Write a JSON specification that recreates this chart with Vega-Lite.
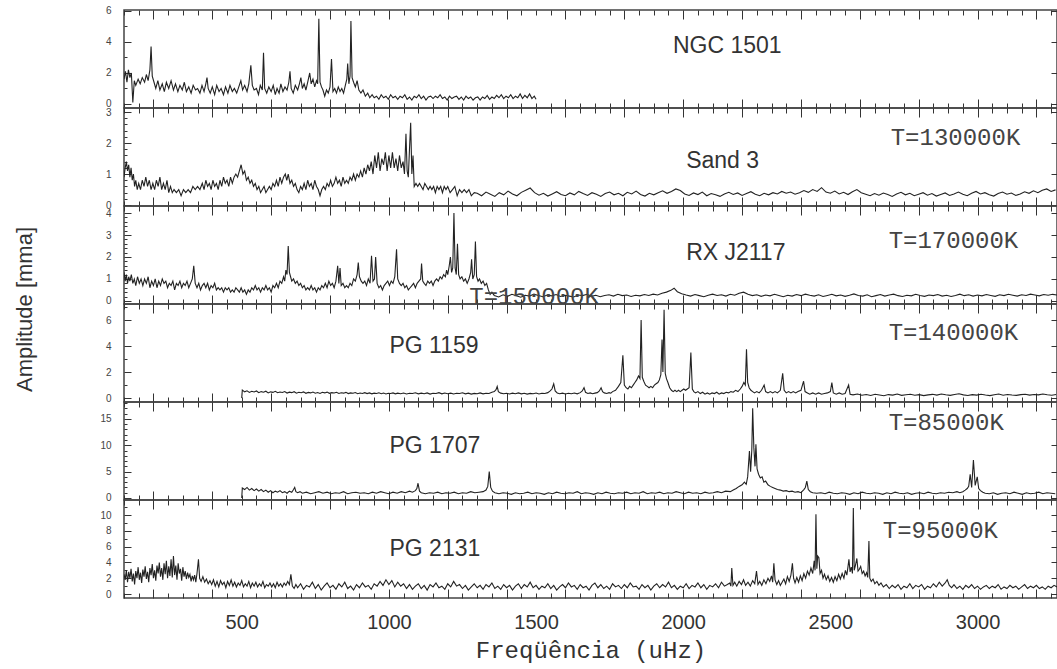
{
"$schema":"https://vega.github.io/schema/vega-lite/v6.json",
"background":"white",
"padding":{"left":12,"top":5,"right":0,"bottom":5},
"spacing":0,
"bounds":"flush",
"config":{"view":{"stroke":"#444","strokeWidth":1.5},"axis":{"grid":false,"domain":false,"tickColor":"#333","tickWidth":1,"labelFont":"Liberation Sans","labelColor":"#444","labelFontSize":10,"labelOverlap":false}},
"datasets":{
"p1":[{"f":100,"a":1.6},{"f":105,"a":2.1},{"f":110,"a":1.4},{"f":115,"a":2.2},{"f":120,"a":1.7},{"f":125,"a":2.0},{"f":130,"a":0.1},{"f":135,"a":1.5},{"f":140,"a":1.2},{"f":148,"a":1.6},{"f":155,"a":1.3},{"f":162,"a":1.7},{"f":170,"a":1.4},{"f":176,"a":1.9},{"f":182,"a":1.5},{"f":188,"a":2.2},{"f":192,"a":3.7},{"f":196,"a":1.8},{"f":202,"a":1.4},{"f":208,"a":1.0},{"f":215,"a":1.5},{"f":222,"a":0.9},{"f":230,"a":1.3},{"f":237,"a":0.8},{"f":244,"a":1.4},{"f":252,"a":1.0},{"f":260,"a":1.5},{"f":268,"a":0.9},{"f":275,"a":1.3},{"f":283,"a":0.8},{"f":290,"a":1.2},{"f":298,"a":0.9},{"f":305,"a":1.4},{"f":312,"a":0.8},{"f":320,"a":1.1},{"f":328,"a":0.7},{"f":335,"a":1.2},{"f":343,"a":0.9},{"f":350,"a":1.0},{"f":358,"a":0.7},{"f":365,"a":1.2},{"f":372,"a":0.8},{"f":378,"a":1.3},{"f":382,"a":1.7},{"f":386,"a":1.0},{"f":393,"a":0.7},{"f":400,"a":1.1},{"f":408,"a":0.6},{"f":415,"a":1.2},{"f":423,"a":0.8},{"f":430,"a":1.0},{"f":438,"a":0.6},{"f":445,"a":1.1},{"f":453,"a":0.7},{"f":460,"a":1.2},{"f":468,"a":0.8},{"f":475,"a":1.0},{"f":483,"a":0.7},{"f":490,"a":1.1},{"f":497,"a":1.5},{"f":503,"a":0.9},{"f":510,"a":1.2},{"f":518,"a":0.8},{"f":524,"a":1.3},{"f":531,"a":2.5},{"f":536,"a":1.2},{"f":542,"a":0.9},{"f":550,"a":1.0},{"f":557,"a":0.6},{"f":563,"a":1.2},{"f":570,"a":0.9},{"f":574,"a":3.3},{"f":578,"a":1.0},{"f":585,"a":0.7},{"f":592,"a":1.1},{"f":600,"a":0.8},{"f":607,"a":1.2},{"f":614,"a":0.6},{"f":620,"a":1.0},{"f":627,"a":0.7},{"f":633,"a":1.3},{"f":640,"a":0.8},{"f":647,"a":1.1},{"f":654,"a":0.9},{"f":660,"a":1.4},{"f":664,"a":2.1},{"f":668,"a":1.0},{"f":675,"a":0.7},{"f":682,"a":1.2},{"f":690,"a":0.9},{"f":696,"a":1.3},{"f":701,"a":1.7},{"f":706,"a":1.0},{"f":712,"a":1.3},{"f":718,"a":0.9},{"f":724,"a":1.4},{"f":731,"a":2.0},{"f":736,"a":1.3},{"f":742,"a":1.6},{"f":748,"a":1.1},{"f":754,"a":1.5},{"f":758,"a":1.3},{"f":762,"a":5.5},{"f":766,"a":1.4},{"f":771,"a":1.1},{"f":776,"a":0.9},{"f":782,"a":0.5},{"f":788,"a":0.9},{"f":794,"a":0.7},{"f":800,"a":1.1},{"f":805,"a":2.9},{"f":810,"a":0.8},{"f":816,"a":1.0},{"f":822,"a":0.7},{"f":828,"a":1.1},{"f":834,"a":0.8},{"f":840,"a":1.0},{"f":846,"a":0.7},{"f":852,"a":1.2},{"f":857,"a":1.6},{"f":860,"a":2.6},{"f":864,"a":1.3},{"f":868,"a":1.8},{"f":871,"a":5.35},{"f":875,"a":1.7},{"f":880,"a":1.4},{"f":886,"a":1.1},{"f":892,"a":1.5},{"f":898,"a":0.9},{"f":905,"a":0.7},{"f":912,"a":0.9},{"f":920,"a":0.5},{"f":928,"a":0.7},{"f":935,"a":0.4},{"f":943,"a":0.6},{"f":950,"a":0.4},{"f":958,"a":0.5},{"f":966,"a":0.3},{"f":974,"a":0.6},{"f":982,"a":0.4},{"f":990,"a":0.5},{"f":998,"a":0.3},{"f":1006,"a":0.6},{"f":1014,"a":0.4},{"f":1022,"a":0.5},{"f":1030,"a":0.3},{"f":1038,"a":0.5},{"f":1046,"a":0.4},{"f":1054,"a":0.6},{"f":1062,"a":0.3},{"f":1070,"a":0.45},{"f":1078,"a":0.25},{"f":1086,"a":0.5},{"f":1094,"a":0.4},{"f":1102,"a":0.6},{"f":1110,"a":0.35},{"f":1118,"a":0.5},{"f":1126,"a":0.25},{"f":1134,"a":0.45},{"f":1142,"a":0.5},{"f":1150,"a":0.35},{"f":1158,"a":0.5},{"f":1166,"a":0.4},{"f":1174,"a":0.6},{"f":1182,"a":0.35},{"f":1190,"a":0.45},{"f":1198,"a":0.25},{"f":1206,"a":0.5},{"f":1214,"a":0.35},{"f":1222,"a":0.45},{"f":1230,"a":0.5},{"f":1238,"a":0.3},{"f":1246,"a":0.45},{"f":1254,"a":0.25},{"f":1262,"a":0.5},{"f":1270,"a":0.35},{"f":1278,"a":0.45},{"f":1286,"a":0.25},{"f":1294,"a":0.4},{"f":1302,"a":0.45},{"f":1310,"a":0.25},{"f":1318,"a":0.45},{"f":1326,"a":0.35},{"f":1334,"a":0.55},{"f":1342,"a":0.3},{"f":1350,"a":0.45},{"f":1358,"a":0.35},{"f":1366,"a":0.55},{"f":1374,"a":0.4},{"f":1382,"a":0.6},{"f":1390,"a":0.35},{"f":1398,"a":0.5},{"f":1406,"a":0.4},{"f":1414,"a":0.6},{"f":1422,"a":0.35},{"f":1430,"a":0.5},{"f":1438,"a":0.4},{"f":1446,"a":0.65},{"f":1454,"a":0.35},{"f":1462,"a":0.55},{"f":1470,"a":0.4},{"f":1478,"a":0.65},{"f":1486,"a":0.35},{"f":1494,"a":0.5},{"f":1500,"a":0.3}],
"p2":[{"f":100,"a":0.9},{"f":104,"a":1.2},{"f":108,"a":1.4},{"f":112,"a":1.1},{"f":116,"a":1.3},{"f":120,"a":0.9},{"f":124,"a":1.2},{"f":128,"a":0.8},{"f":132,"a":1.0},{"f":136,"a":0.6},{"f":140,"a":0.8},{"f":145,"a":0.5},{"f":150,"a":0.7},{"f":156,"a":0.5},{"f":162,"a":0.8},{"f":168,"a":0.6},{"f":174,"a":0.9},{"f":180,"a":0.6},{"f":186,"a":0.8},{"f":192,"a":0.5},{"f":198,"a":0.7},{"f":204,"a":0.5},{"f":210,"a":0.8},{"f":216,"a":0.6},{"f":222,"a":0.9},{"f":228,"a":0.5},{"f":234,"a":0.7},{"f":240,"a":0.5},{"f":246,"a":0.8},{"f":252,"a":0.4},{"f":258,"a":0.6},{"f":264,"a":0.4},{"f":270,"a":0.5},{"f":278,"a":0.4},{"f":286,"a":0.5},{"f":294,"a":0.3},{"f":302,"a":0.5},{"f":310,"a":0.4},{"f":318,"a":0.5},{"f":326,"a":0.4},{"f":334,"a":0.6},{"f":342,"a":0.5},{"f":350,"a":0.6},{"f":358,"a":0.5},{"f":366,"a":0.7},{"f":372,"a":0.5},{"f":378,"a":0.8},{"f":384,"a":0.6},{"f":390,"a":0.7},{"f":396,"a":0.5},{"f":402,"a":0.8},{"f":408,"a":0.6},{"f":414,"a":0.7},{"f":420,"a":0.5},{"f":426,"a":0.8},{"f":432,"a":0.6},{"f":438,"a":0.9},{"f":444,"a":0.7},{"f":450,"a":0.8},{"f":456,"a":0.6},{"f":462,"a":0.9},{"f":468,"a":0.7},{"f":474,"a":0.9},{"f":480,"a":1.0},{"f":486,"a":0.9},{"f":492,"a":1.1},{"f":498,"a":1.3},{"f":504,"a":1.0},{"f":510,"a":1.1},{"f":516,"a":0.8},{"f":522,"a":0.9},{"f":528,"a":0.7},{"f":534,"a":0.8},{"f":540,"a":0.6},{"f":546,"a":0.7},{"f":552,"a":0.5},{"f":558,"a":0.6},{"f":564,"a":0.4},{"f":570,"a":0.5},{"f":576,"a":0.6},{"f":582,"a":0.4},{"f":588,"a":0.5},{"f":594,"a":0.6},{"f":600,"a":0.5},{"f":606,"a":0.7},{"f":612,"a":0.6},{"f":618,"a":0.8},{"f":624,"a":0.6},{"f":630,"a":0.9},{"f":636,"a":0.7},{"f":642,"a":0.9},{"f":648,"a":1.0},{"f":653,"a":0.8},{"f":658,"a":1.0},{"f":664,"a":0.7},{"f":670,"a":0.8},{"f":676,"a":0.6},{"f":682,"a":0.7},{"f":688,"a":0.5},{"f":694,"a":0.4},{"f":700,"a":0.6},{"f":706,"a":0.5},{"f":712,"a":0.7},{"f":718,"a":0.5},{"f":724,"a":0.8},{"f":730,"a":0.6},{"f":736,"a":0.7},{"f":742,"a":0.5},{"f":748,"a":0.8},{"f":754,"a":0.6},{"f":760,"a":0.5},{"f":766,"a":0.3},{"f":772,"a":0.5},{"f":778,"a":0.6},{"f":784,"a":0.5},{"f":790,"a":0.7},{"f":796,"a":0.6},{"f":802,"a":0.8},{"f":808,"a":0.6},{"f":814,"a":0.7},{"f":820,"a":0.9},{"f":826,"a":0.7},{"f":832,"a":0.8},{"f":838,"a":0.6},{"f":844,"a":0.9},{"f":850,"a":0.7},{"f":856,"a":0.8},{"f":862,"a":0.7},{"f":868,"a":0.9},{"f":874,"a":0.8},{"f":880,"a":1.0},{"f":886,"a":0.8},{"f":892,"a":1.0},{"f":898,"a":0.9},{"f":904,"a":1.1},{"f":910,"a":0.9},{"f":916,"a":1.2},{"f":922,"a":1.0},{"f":928,"a":1.3},{"f":934,"a":1.1},{"f":940,"a":1.4},{"f":946,"a":1.0},{"f":952,"a":1.6},{"f":958,"a":1.2},{"f":964,"a":1.7},{"f":970,"a":1.1},{"f":976,"a":1.5},{"f":982,"a":1.3},{"f":988,"a":1.7},{"f":994,"a":1.1},{"f":1000,"a":1.6},{"f":1006,"a":1.2},{"f":1012,"a":1.7},{"f":1018,"a":1.2},{"f":1024,"a":1.5},{"f":1030,"a":1.1},{"f":1036,"a":1.6},{"f":1042,"a":1.2},{"f":1048,"a":1.4},{"f":1053,"a":1.0},{"f":1058,"a":2.3},{"f":1062,"a":1.1},{"f":1066,"a":0.9},{"f":1070,"a":1.8},{"f":1074,"a":2.65},{"f":1078,"a":1.0},{"f":1082,"a":1.6},{"f":1086,"a":0.6},{"f":1092,"a":0.7},{"f":1098,"a":0.6},{"f":1104,"a":0.7},{"f":1110,"a":0.6},{"f":1116,"a":0.5},{"f":1122,"a":0.7},{"f":1128,"a":0.6},{"f":1134,"a":0.5},{"f":1140,"a":0.6},{"f":1146,"a":0.5},{"f":1152,"a":0.6},{"f":1158,"a":0.4},{"f":1164,"a":0.6},{"f":1170,"a":0.5},{"f":1176,"a":0.6},{"f":1182,"a":0.4},{"f":1188,"a":0.6},{"f":1194,"a":0.5},{"f":1200,"a":0.6},{"f":1208,"a":0.4},{"f":1216,"a":0.5},{"f":1224,"a":0.6},{"f":1232,"a":0.3},{"f":1240,"a":0.5},{"f":1248,"a":0.4},{"f":1256,"a":0.5},{"f":1264,"a":0.4},{"f":1272,"a":0.5},{"f":1280,"a":0.3},{"f":1290,"a":0.4},{"f":1300,"a":0.38},{"f":1315,"a":0.3},{"f":1330,"a":0.42},{"f":1345,"a":0.35},{"f":1360,"a":0.28},{"f":1375,"a":0.4},{"f":1390,"a":0.33},{"f":1405,"a":0.45},{"f":1420,"a":0.36},{"f":1435,"a":0.3},{"f":1450,"a":0.41},{"f":1465,"a":0.48},{"f":1480,"a":0.55},{"f":1495,"a":0.4},{"f":1510,"a":0.32},{"f":1525,"a":0.38},{"f":1540,"a":0.29},{"f":1555,"a":0.36},{"f":1570,"a":0.43},{"f":1585,"a":0.34},{"f":1600,"a":0.3},{"f":1615,"a":0.39},{"f":1630,"a":0.33},{"f":1645,"a":0.44},{"f":1660,"a":0.37},{"f":1675,"a":0.31},{"f":1690,"a":0.4},{"f":1705,"a":0.35},{"f":1720,"a":0.28},{"f":1735,"a":0.37},{"f":1750,"a":0.42},{"f":1765,"a":0.33},{"f":1780,"a":0.38},{"f":1795,"a":0.3},{"f":1810,"a":0.41},{"f":1825,"a":0.36},{"f":1840,"a":0.45},{"f":1855,"a":0.34},{"f":1870,"a":0.29},{"f":1885,"a":0.38},{"f":1900,"a":0.33},{"f":1915,"a":0.4},{"f":1930,"a":0.46},{"f":1945,"a":0.38},{"f":1960,"a":0.44},{"f":1975,"a":0.52},{"f":1990,"a":0.47},{"f":2005,"a":0.36},{"f":2020,"a":0.31},{"f":2035,"a":0.39},{"f":2050,"a":0.34},{"f":2065,"a":0.42},{"f":2080,"a":0.3},{"f":2095,"a":0.37},{"f":2110,"a":0.33},{"f":2125,"a":0.28},{"f":2140,"a":0.36},{"f":2155,"a":0.41},{"f":2170,"a":0.34},{"f":2185,"a":0.39},{"f":2200,"a":0.31},{"f":2215,"a":0.37},{"f":2230,"a":0.43},{"f":2245,"a":0.35},{"f":2260,"a":0.3},{"f":2275,"a":0.38},{"f":2290,"a":0.33},{"f":2305,"a":0.4},{"f":2320,"a":0.36},{"f":2335,"a":0.44},{"f":2350,"a":0.38},{"f":2365,"a":0.42},{"f":2380,"a":0.35},{"f":2395,"a":0.4},{"f":2410,"a":0.47},{"f":2425,"a":0.41},{"f":2440,"a":0.5},{"f":2455,"a":0.44},{"f":2470,"a":0.56},{"f":2485,"a":0.42},{"f":2500,"a":0.38},{"f":2515,"a":0.45},{"f":2530,"a":0.36},{"f":2545,"a":0.41},{"f":2560,"a":0.34},{"f":2575,"a":0.43},{"f":2590,"a":0.5},{"f":2605,"a":0.4},{"f":2620,"a":0.35},{"f":2635,"a":0.3},{"f":2650,"a":0.37},{"f":2665,"a":0.32},{"f":2680,"a":0.39},{"f":2695,"a":0.34},{"f":2710,"a":0.28},{"f":2725,"a":0.36},{"f":2740,"a":0.41},{"f":2755,"a":0.33},{"f":2770,"a":0.38},{"f":2785,"a":0.3},{"f":2800,"a":0.35},{"f":2815,"a":0.4},{"f":2830,"a":0.32},{"f":2845,"a":0.37},{"f":2860,"a":0.29},{"f":2875,"a":0.34},{"f":2890,"a":0.39},{"f":2905,"a":0.31},{"f":2920,"a":0.36},{"f":2935,"a":0.42},{"f":2950,"a":0.35},{"f":2965,"a":0.3},{"f":2980,"a":0.38},{"f":2995,"a":0.44},{"f":3010,"a":0.36},{"f":3025,"a":0.4},{"f":3040,"a":0.33},{"f":3055,"a":0.29},{"f":3070,"a":0.37},{"f":3085,"a":0.42},{"f":3100,"a":0.35},{"f":3115,"a":0.39},{"f":3130,"a":0.31},{"f":3145,"a":0.36},{"f":3160,"a":0.43},{"f":3175,"a":0.38},{"f":3190,"a":0.46},{"f":3205,"a":0.4},{"f":3220,"a":0.48},{"f":3235,"a":0.52},{"f":3250,"a":0.44},{"f":3265,"a":0.49}],
"p3":[{"f":100,"a":1.3},{"f":104,"a":0.9},{"f":108,"a":1.2},{"f":112,"a":0.8},{"f":116,"a":1.1},{"f":120,"a":0.9},{"f":125,"a":1.2},{"f":130,"a":0.8},{"f":135,"a":1.0},{"f":140,"a":0.7},{"f":146,"a":1.1},{"f":152,"a":0.8},{"f":158,"a":1.0},{"f":164,"a":0.7},{"f":170,"a":1.0},{"f":176,"a":0.8},{"f":182,"a":1.1},{"f":188,"a":0.6},{"f":194,"a":0.9},{"f":200,"a":0.7},{"f":206,"a":1.0},{"f":212,"a":0.6},{"f":218,"a":0.9},{"f":224,"a":0.7},{"f":230,"a":1.0},{"f":236,"a":0.8},{"f":242,"a":0.9},{"f":248,"a":0.6},{"f":254,"a":0.8},{"f":260,"a":0.7},{"f":266,"a":0.9},{"f":272,"a":0.5},{"f":278,"a":0.8},{"f":284,"a":0.7},{"f":290,"a":0.9},{"f":296,"a":0.6},{"f":302,"a":0.8},{"f":308,"a":0.7},{"f":314,"a":0.9},{"f":320,"a":0.6},{"f":326,"a":0.8},{"f":332,"a":1.0},{"f":337,"a":1.6},{"f":342,"a":0.8},{"f":348,"a":0.6},{"f":354,"a":0.8},{"f":360,"a":0.5},{"f":366,"a":0.7},{"f":372,"a":0.8},{"f":378,"a":0.6},{"f":384,"a":0.8},{"f":390,"a":0.5},{"f":396,"a":0.7},{"f":402,"a":0.6},{"f":408,"a":0.8},{"f":414,"a":0.5},{"f":420,"a":0.6},{"f":426,"a":0.5},{"f":432,"a":0.6},{"f":438,"a":0.4},{"f":444,"a":0.6},{"f":450,"a":0.5},{"f":456,"a":0.6},{"f":462,"a":0.4},{"f":468,"a":0.5},{"f":474,"a":0.4},{"f":480,"a":0.6},{"f":486,"a":0.5},{"f":492,"a":0.4},{"f":498,"a":0.6},{"f":504,"a":0.4},{"f":510,"a":0.5},{"f":516,"a":0.3},{"f":522,"a":0.5},{"f":528,"a":0.4},{"f":534,"a":0.6},{"f":540,"a":0.5},{"f":546,"a":0.7},{"f":552,"a":0.5},{"f":558,"a":0.6},{"f":564,"a":0.4},{"f":570,"a":0.6},{"f":576,"a":0.5},{"f":582,"a":0.7},{"f":588,"a":0.5},{"f":594,"a":0.6},{"f":600,"a":0.4},{"f":606,"a":0.7},{"f":612,"a":0.6},{"f":618,"a":0.8},{"f":624,"a":0.6},{"f":630,"a":0.9},{"f":636,"a":0.8},{"f":642,"a":1.1},{"f":646,"a":0.9},{"f":650,"a":1.4},{"f":654,"a":1.2},{"f":658,"a":2.5},{"f":662,"a":1.3},{"f":666,"a":1.1},{"f":670,"a":0.9},{"f":676,"a":1.0},{"f":682,"a":0.8},{"f":688,"a":0.9},{"f":694,"a":0.7},{"f":700,"a":0.8},{"f":706,"a":0.6},{"f":712,"a":0.7},{"f":718,"a":0.5},{"f":724,"a":0.6},{"f":730,"a":0.5},{"f":736,"a":0.7},{"f":742,"a":0.5},{"f":748,"a":0.6},{"f":754,"a":0.4},{"f":760,"a":0.6},{"f":766,"a":0.5},{"f":772,"a":0.7},{"f":778,"a":0.6},{"f":784,"a":0.8},{"f":790,"a":0.6},{"f":796,"a":0.9},{"f":802,"a":0.7},{"f":808,"a":0.8},{"f":814,"a":0.6},{"f":820,"a":0.9},{"f":826,"a":1.6},{"f":830,"a":0.8},{"f":834,"a":1.5},{"f":838,"a":0.7},{"f":844,"a":0.8},{"f":850,"a":0.6},{"f":856,"a":0.7},{"f":862,"a":0.6},{"f":868,"a":0.8},{"f":874,"a":0.7},{"f":880,"a":1.0},{"f":886,"a":0.9},{"f":892,"a":1.2},{"f":896,"a":1.75},{"f":900,"a":1.1},{"f":906,"a":0.9},{"f":912,"a":0.8},{"f":918,"a":0.9},{"f":924,"a":0.7},{"f":930,"a":1.0},{"f":936,"a":0.8},{"f":941,"a":2.05},{"f":946,"a":0.9},{"f":951,"a":1.0},{"f":955,"a":2.0},{"f":960,"a":0.8},{"f":966,"a":0.6},{"f":972,"a":0.7},{"f":978,"a":0.5},{"f":984,"a":0.7},{"f":990,"a":0.8},{"f":996,"a":0.9},{"f":1002,"a":0.7},{"f":1008,"a":0.9},{"f":1014,"a":0.8},{"f":1020,"a":1.1},{"f":1026,"a":2.35},{"f":1030,"a":1.0},{"f":1036,"a":0.8},{"f":1042,"a":0.7},{"f":1048,"a":0.8},{"f":1054,"a":0.6},{"f":1060,"a":0.7},{"f":1066,"a":0.5},{"f":1072,"a":0.6},{"f":1078,"a":0.7},{"f":1084,"a":0.8},{"f":1090,"a":0.6},{"f":1096,"a":0.8},{"f":1102,"a":0.9},{"f":1108,"a":1.0},{"f":1111,"a":1.7},{"f":1115,"a":0.9},{"f":1120,"a":0.8},{"f":1126,"a":0.7},{"f":1132,"a":0.9},{"f":1138,"a":0.8},{"f":1144,"a":0.9},{"f":1150,"a":0.7},{"f":1156,"a":0.9},{"f":1162,"a":1.0},{"f":1168,"a":0.9},{"f":1174,"a":1.1},{"f":1180,"a":1.0},{"f":1186,"a":1.2},{"f":1192,"a":1.1},{"f":1196,"a":1.4},{"f":1200,"a":1.2},{"f":1205,"a":1.6},{"f":1209,"a":2.0},{"f":1213,"a":1.3},{"f":1217,"a":1.5},{"f":1221,"a":4.0},{"f":1225,"a":1.5},{"f":1229,"a":1.2},{"f":1233,"a":2.6},{"f":1237,"a":1.2},{"f":1242,"a":1.0},{"f":1248,"a":1.1},{"f":1254,"a":0.9},{"f":1260,"a":1.0},{"f":1266,"a":0.8},{"f":1272,"a":1.0},{"f":1278,"a":1.3},{"f":1281,"a":1.9},{"f":1285,"a":1.0},{"f":1290,"a":1.2},{"f":1294,"a":2.7},{"f":1298,"a":1.1},{"f":1303,"a":0.9},{"f":1308,"a":1.0},{"f":1314,"a":0.8},{"f":1320,"a":0.9},{"f":1326,"a":0.7},{"f":1332,"a":0.8},{"f":1338,"a":0.5},{"f":1344,"a":0.3},{"f":1350,"a":0.4},{"f":1358,"a":0.25},{"f":1373,"a":0.18},{"f":1388,"a":0.28},{"f":1403,"a":0.21},{"f":1418,"a":0.3},{"f":1433,"a":0.24},{"f":1448,"a":0.17},{"f":1463,"a":0.26},{"f":1478,"a":0.22},{"f":1493,"a":0.31},{"f":1508,"a":0.25},{"f":1523,"a":0.19},{"f":1538,"a":0.27},{"f":1553,"a":0.23},{"f":1568,"a":0.29},{"f":1583,"a":0.2},{"f":1598,"a":0.26},{"f":1613,"a":0.22},{"f":1628,"a":0.18},{"f":1643,"a":0.27},{"f":1658,"a":0.24},{"f":1673,"a":0.3},{"f":1688,"a":0.21},{"f":1703,"a":0.26},{"f":1718,"a":0.19},{"f":1733,"a":0.25},{"f":1748,"a":0.28},{"f":1763,"a":0.22},{"f":1778,"a":0.3},{"f":1793,"a":0.24},{"f":1808,"a":0.27},{"f":1823,"a":0.2},{"f":1838,"a":0.26},{"f":1853,"a":0.23},{"f":1868,"a":0.29},{"f":1883,"a":0.25},{"f":1898,"a":0.31},{"f":1913,"a":0.27},{"f":1928,"a":0.35},{"f":1943,"a":0.4},{"f":1958,"a":0.48},{"f":1969,"a":0.58},{"f":1980,"a":0.42},{"f":1995,"a":0.33},{"f":2010,"a":0.27},{"f":2025,"a":0.22},{"f":2040,"a":0.29},{"f":2055,"a":0.24},{"f":2070,"a":0.19},{"f":2085,"a":0.26},{"f":2100,"a":0.31},{"f":2115,"a":0.25},{"f":2130,"a":0.28},{"f":2145,"a":0.22},{"f":2160,"a":0.3},{"f":2175,"a":0.26},{"f":2190,"a":0.35},{"f":2205,"a":0.4},{"f":2220,"a":0.3},{"f":2235,"a":0.24},{"f":2250,"a":0.28},{"f":2265,"a":0.21},{"f":2280,"a":0.27},{"f":2295,"a":0.23},{"f":2310,"a":0.3},{"f":2325,"a":0.25},{"f":2340,"a":0.19},{"f":2355,"a":0.26},{"f":2370,"a":0.22},{"f":2385,"a":0.29},{"f":2400,"a":0.24},{"f":2415,"a":0.31},{"f":2430,"a":0.26},{"f":2445,"a":0.22},{"f":2460,"a":0.28},{"f":2475,"a":0.2},{"f":2490,"a":0.25},{"f":2505,"a":0.3},{"f":2520,"a":0.23},{"f":2535,"a":0.27},{"f":2550,"a":0.21},{"f":2565,"a":0.26},{"f":2580,"a":0.32},{"f":2595,"a":0.25},{"f":2610,"a":0.22},{"f":2625,"a":0.28},{"f":2640,"a":0.19},{"f":2655,"a":0.24},{"f":2670,"a":0.29},{"f":2685,"a":0.22},{"f":2700,"a":0.27},{"f":2715,"a":0.31},{"f":2730,"a":0.24},{"f":2745,"a":0.2},{"f":2760,"a":0.26},{"f":2775,"a":0.23},{"f":2790,"a":0.3},{"f":2805,"a":0.25},{"f":2820,"a":0.21},{"f":2835,"a":0.27},{"f":2850,"a":0.24},{"f":2865,"a":0.29},{"f":2880,"a":0.22},{"f":2895,"a":0.26},{"f":2910,"a":0.2},{"f":2925,"a":0.25},{"f":2940,"a":0.31},{"f":2955,"a":0.24},{"f":2970,"a":0.28},{"f":2985,"a":0.22},{"f":3000,"a":0.27},{"f":3015,"a":0.23},{"f":3030,"a":0.29},{"f":3045,"a":0.25},{"f":3060,"a":0.21},{"f":3075,"a":0.28},{"f":3090,"a":0.24},{"f":3105,"a":0.3},{"f":3120,"a":0.26},{"f":3135,"a":0.22},{"f":3150,"a":0.28},{"f":3165,"a":0.25},{"f":3180,"a":0.31},{"f":3195,"a":0.27},{"f":3210,"a":0.23},{"f":3225,"a":0.29},{"f":3240,"a":0.26},{"f":3255,"a":0.3},{"f":3270,"a":0.27}],
"p4":[{"f":500,"a":0},{"f":502,"a":0.62},{"f":510,"a":0.48},{"f":518,"a":0.56},{"f":526,"a":0.44},{"f":534,"a":0.52},{"f":542,"a":0.47},{"f":550,"a":0.55},{"f":558,"a":0.42},{"f":566,"a":0.5},{"f":574,"a":0.45},{"f":582,"a":0.53},{"f":590,"a":0.4},{"f":598,"a":0.48},{"f":606,"a":0.44},{"f":614,"a":0.52},{"f":622,"a":0.41},{"f":630,"a":0.47},{"f":638,"a":0.43},{"f":646,"a":0.5},{"f":654,"a":0.39},{"f":662,"a":0.46},{"f":670,"a":0.42},{"f":678,"a":0.49},{"f":686,"a":0.38},{"f":694,"a":0.45},{"f":702,"a":0.41},{"f":710,"a":0.48},{"f":718,"a":0.37},{"f":726,"a":0.44},{"f":734,"a":0.4},{"f":742,"a":0.47},{"f":750,"a":0.38},{"f":758,"a":0.43},{"f":766,"a":0.36},{"f":774,"a":0.45},{"f":782,"a":0.4},{"f":790,"a":0.46},{"f":798,"a":0.37},{"f":806,"a":0.42},{"f":814,"a":0.39},{"f":822,"a":0.45},{"f":830,"a":0.36},{"f":838,"a":0.41},{"f":846,"a":0.38},{"f":854,"a":0.44},{"f":862,"a":0.35},{"f":870,"a":0.4},{"f":878,"a":0.37},{"f":886,"a":0.43},{"f":894,"a":0.34},{"f":902,"a":0.39},{"f":910,"a":0.36},{"f":918,"a":0.42},{"f":926,"a":0.35},{"f":934,"a":0.4},{"f":942,"a":0.33},{"f":950,"a":0.38},{"f":958,"a":0.36},{"f":966,"a":0.41},{"f":974,"a":0.34},{"f":982,"a":0.39},{"f":990,"a":0.32},{"f":998,"a":0.37},{"f":1006,"a":0.35},{"f":1014,"a":0.4},{"f":1022,"a":0.33},{"f":1030,"a":0.38},{"f":1040,"a":0.34},{"f":1050,"a":0.39},{"f":1060,"a":0.32},{"f":1070,"a":0.37},{"f":1080,"a":0.35},{"f":1090,"a":0.41},{"f":1100,"a":0.33},{"f":1110,"a":0.38},{"f":1120,"a":0.34},{"f":1130,"a":0.4},{"f":1140,"a":0.31},{"f":1150,"a":0.37},{"f":1160,"a":0.35},{"f":1170,"a":0.42},{"f":1180,"a":0.33},{"f":1190,"a":0.39},{"f":1200,"a":0.34},{"f":1210,"a":0.38},{"f":1220,"a":0.32},{"f":1230,"a":0.37},{"f":1240,"a":0.35},{"f":1250,"a":0.41},{"f":1260,"a":0.33},{"f":1270,"a":0.38},{"f":1280,"a":0.31},{"f":1290,"a":0.36},{"f":1300,"a":0.34},{"f":1310,"a":0.4},{"f":1320,"a":0.33},{"f":1330,"a":0.37},{"f":1340,"a":0.35},{"f":1350,"a":0.45},{"f":1358,"a":0.5},{"f":1364,"a":0.65},{"f":1368,"a":0.9},{"f":1372,"a":0.5},{"f":1380,"a":0.38},{"f":1390,"a":0.33},{"f":1400,"a":0.37},{"f":1410,"a":0.32},{"f":1420,"a":0.38},{"f":1430,"a":0.34},{"f":1440,"a":0.4},{"f":1450,"a":0.33},{"f":1460,"a":0.37},{"f":1470,"a":0.31},{"f":1480,"a":0.36},{"f":1490,"a":0.34},{"f":1500,"a":0.39},{"f":1510,"a":0.32},{"f":1520,"a":0.37},{"f":1530,"a":0.35},{"f":1540,"a":0.42},{"f":1548,"a":0.55},{"f":1554,"a":0.7},{"f":1560,"a":1.1},{"f":1565,"a":0.55},{"f":1572,"a":0.4},{"f":1580,"a":0.34},{"f":1590,"a":0.38},{"f":1600,"a":0.32},{"f":1610,"a":0.37},{"f":1620,"a":0.34},{"f":1630,"a":0.39},{"f":1640,"a":0.33},{"f":1650,"a":0.42},{"f":1657,"a":0.55},{"f":1663,"a":0.8},{"f":1668,"a":0.45},{"f":1676,"a":0.36},{"f":1684,"a":0.4},{"f":1692,"a":0.34},{"f":1700,"a":0.38},{"f":1708,"a":0.42},{"f":1715,"a":0.55},{"f":1721,"a":0.8},{"f":1726,"a":0.5},{"f":1732,"a":0.4},{"f":1740,"a":0.36},{"f":1748,"a":0.42},{"f":1754,"a":0.38},{"f":1760,"a":0.5},{"f":1770,"a":0.6},{"f":1780,"a":0.9},{"f":1788,"a":1.2},{"f":1795,"a":3.3},{"f":1800,"a":1.0},{"f":1806,"a":0.8},{"f":1812,"a":0.7},{"f":1818,"a":0.9},{"f":1824,"a":0.8},{"f":1830,"a":1.0},{"f":1836,"a":1.2},{"f":1842,"a":1.4},{"f":1848,"a":1.7},{"f":1853,"a":1.5},{"f":1857,"a":6.0},{"f":1861,"a":1.6},{"f":1866,"a":1.3},{"f":1872,"a":1.0},{"f":1878,"a":0.9},{"f":1884,"a":0.8},{"f":1890,"a":0.9},{"f":1896,"a":0.8},{"f":1902,"a":1.0},{"f":1908,"a":1.1},{"f":1914,"a":1.2},{"f":1919,"a":1.4},{"f":1924,"a":1.8},{"f":1928,"a":4.5},{"f":1931,"a":2.0},{"f":1935,"a":6.8},{"f":1939,"a":1.9},{"f":1943,"a":1.5},{"f":1948,"a":1.2},{"f":1954,"a":0.8},{"f":1960,"a":0.6},{"f":1966,"a":0.5},{"f":1972,"a":0.6},{"f":1978,"a":0.5},{"f":1984,"a":0.6},{"f":1990,"a":0.5},{"f":1996,"a":0.6},{"f":2002,"a":0.7},{"f":2008,"a":0.6},{"f":2014,"a":0.7},{"f":2020,"a":0.8},{"f":2026,"a":3.5},{"f":2031,"a":0.7},{"f":2036,"a":0.5},{"f":2042,"a":0.4},{"f":2050,"a":0.5},{"f":2058,"a":0.35},{"f":2066,"a":0.45},{"f":2074,"a":0.3},{"f":2082,"a":0.4},{"f":2090,"a":0.3},{"f":2098,"a":0.4},{"f":2106,"a":0.35},{"f":2114,"a":0.45},{"f":2122,"a":0.3},{"f":2130,"a":0.4},{"f":2138,"a":0.35},{"f":2146,"a":0.45},{"f":2154,"a":0.4},{"f":2162,"a":0.5},{"f":2170,"a":0.45},{"f":2178,"a":0.6},{"f":2186,"a":0.5},{"f":2194,"a":0.7},{"f":2200,"a":0.9},{"f":2206,"a":1.2},{"f":2211,"a":1.0},{"f":2215,"a":3.75},{"f":2219,"a":1.2},{"f":2224,"a":0.8},{"f":2230,"a":0.6},{"f":2236,"a":0.5},{"f":2242,"a":0.4},{"f":2250,"a":0.5},{"f":2258,"a":0.4},{"f":2266,"a":0.6},{"f":2275,"a":1.0},{"f":2280,"a":0.5},{"f":2288,"a":0.4},{"f":2296,"a":0.5},{"f":2304,"a":0.4},{"f":2312,"a":0.5},{"f":2320,"a":0.4},{"f":2330,"a":0.6},{"f":2338,"a":1.9},{"f":2343,"a":0.6},{"f":2350,"a":0.4},{"f":2358,"a":0.5},{"f":2366,"a":0.4},{"f":2374,"a":0.5},{"f":2382,"a":0.4},{"f":2390,"a":0.5},{"f":2400,"a":0.6},{"f":2409,"a":1.3},{"f":2414,"a":0.5},{"f":2422,"a":0.4},{"f":2430,"a":0.3},{"f":2440,"a":0.4},{"f":2450,"a":0.3},{"f":2460,"a":0.4},{"f":2470,"a":0.3},{"f":2480,"a":0.35},{"f":2490,"a":0.4},{"f":2500,"a":0.5},{"f":2505,"a":1.2},{"f":2510,"a":0.4},{"f":2520,"a":0.3},{"f":2530,"a":0.4},{"f":2540,"a":0.3},{"f":2550,"a":0.35},{"f":2562,"a":1.0},{"f":2567,"a":0.3},{"f":2577,"a":0.25},{"f":2592,"a":0.32},{"f":2607,"a":0.22},{"f":2622,"a":0.28},{"f":2637,"a":0.2},{"f":2652,"a":0.3},{"f":2667,"a":0.24},{"f":2682,"a":0.18},{"f":2697,"a":0.27},{"f":2712,"a":0.23},{"f":2727,"a":0.31},{"f":2742,"a":0.21},{"f":2757,"a":0.26},{"f":2772,"a":0.3},{"f":2787,"a":0.22},{"f":2802,"a":0.27},{"f":2817,"a":0.19},{"f":2832,"a":0.25},{"f":2847,"a":0.29},{"f":2862,"a":0.23},{"f":2877,"a":0.32},{"f":2892,"a":0.26},{"f":2907,"a":0.21},{"f":2922,"a":0.28},{"f":2937,"a":0.33},{"f":2952,"a":0.25},{"f":2967,"a":0.2},{"f":2982,"a":0.27},{"f":2997,"a":0.23},{"f":3012,"a":0.3},{"f":3027,"a":0.24},{"f":3042,"a":0.19},{"f":3057,"a":0.26},{"f":3072,"a":0.31},{"f":3087,"a":0.22},{"f":3102,"a":0.28},{"f":3117,"a":0.24},{"f":3132,"a":0.21},{"f":3147,"a":0.27},{"f":3162,"a":0.3},{"f":3177,"a":0.23},{"f":3192,"a":0.28},{"f":3207,"a":0.25},{"f":3222,"a":0.32},{"f":3237,"a":0.26},{"f":3252,"a":0.22},{"f":3267,"a":0.28}],
"p5":[{"f":500,"a":0},{"f":502,"a":1.9},{"f":510,"a":1.6},{"f":518,"a":2.0},{"f":526,"a":1.5},{"f":534,"a":1.8},{"f":542,"a":1.4},{"f":550,"a":1.7},{"f":558,"a":1.3},{"f":566,"a":1.6},{"f":574,"a":1.2},{"f":582,"a":1.5},{"f":590,"a":1.1},{"f":598,"a":1.4},{"f":606,"a":1.0},{"f":614,"a":1.3},{"f":622,"a":1.1},{"f":630,"a":1.4},{"f":638,"a":1.0},{"f":646,"a":1.2},{"f":654,"a":0.9},{"f":662,"a":1.3},{"f":670,"a":1.1},{"f":676,"a":1.6},{"f":680,"a":2.0},{"f":684,"a":1.2},{"f":690,"a":1.0},{"f":698,"a":1.2},{"f":706,"a":0.9},{"f":720,"a":1.1},{"f":734,"a":0.8},{"f":748,"a":1.0},{"f":762,"a":1.2},{"f":776,"a":0.9},{"f":790,"a":1.1},{"f":804,"a":0.8},{"f":818,"a":1.0},{"f":832,"a":0.9},{"f":846,"a":1.2},{"f":860,"a":0.8},{"f":874,"a":1.0},{"f":888,"a":1.1},{"f":902,"a":0.9},{"f":916,"a":1.0},{"f":930,"a":0.8},{"f":944,"a":1.1},{"f":958,"a":0.9},{"f":972,"a":1.2},{"f":986,"a":1.0},{"f":1000,"a":0.8},{"f":1014,"a":1.1},{"f":1028,"a":0.9},{"f":1042,"a":1.2},{"f":1056,"a":1.0},{"f":1070,"a":1.3},{"f":1080,"a":1.1},{"f":1090,"a":1.4},{"f":1095,"a":1.8},{"f":1099,"a":2.8},{"f":1104,"a":1.3},{"f":1110,"a":1.0},{"f":1124,"a":0.8},{"f":1138,"a":1.0},{"f":1152,"a":0.9},{"f":1166,"a":1.1},{"f":1180,"a":0.8},{"f":1194,"a":1.0},{"f":1208,"a":0.9},{"f":1222,"a":1.1},{"f":1236,"a":0.8},{"f":1250,"a":1.0},{"f":1264,"a":0.9},{"f":1278,"a":1.2},{"f":1292,"a":1.0},{"f":1306,"a":1.1},{"f":1320,"a":1.2},{"f":1330,"a":1.5},{"f":1336,"a":2.2},{"f":1341,"a":5.0},{"f":1346,"a":2.0},{"f":1352,"a":1.3},{"f":1360,"a":1.0},{"f":1374,"a":0.8},{"f":1388,"a":1.0},{"f":1402,"a":0.9},{"f":1416,"a":0.7},{"f":1430,"a":1.0},{"f":1444,"a":0.8},{"f":1458,"a":0.9},{"f":1472,"a":1.1},{"f":1486,"a":0.8},{"f":1500,"a":1.0},{"f":1514,"a":0.9},{"f":1528,"a":0.7},{"f":1542,"a":1.0},{"f":1556,"a":0.8},{"f":1570,"a":1.1},{"f":1584,"a":0.9},{"f":1598,"a":0.8},{"f":1612,"a":1.0},{"f":1626,"a":0.9},{"f":1640,"a":1.2},{"f":1654,"a":0.8},{"f":1668,"a":1.0},{"f":1682,"a":0.9},{"f":1696,"a":0.7},{"f":1710,"a":1.0},{"f":1724,"a":0.8},{"f":1738,"a":1.1},{"f":1752,"a":0.9},{"f":1766,"a":0.8},{"f":1780,"a":1.0},{"f":1794,"a":0.9},{"f":1808,"a":1.1},{"f":1822,"a":0.8},{"f":1836,"a":1.0},{"f":1850,"a":0.9},{"f":1864,"a":1.2},{"f":1878,"a":0.8},{"f":1892,"a":1.0},{"f":1906,"a":0.9},{"f":1920,"a":1.1},{"f":1934,"a":0.8},{"f":1948,"a":1.0},{"f":1962,"a":0.9},{"f":1976,"a":1.2},{"f":1990,"a":1.0},{"f":2004,"a":0.8},{"f":2018,"a":1.1},{"f":2032,"a":0.9},{"f":2046,"a":1.0},{"f":2060,"a":0.8},{"f":2074,"a":1.1},{"f":2088,"a":0.9},{"f":2102,"a":1.0},{"f":2116,"a":1.2},{"f":2130,"a":1.0},{"f":2144,"a":1.3},{"f":2160,"a":1.2},{"f":2170,"a":1.5},{"f":2180,"a":1.8},{"f":2190,"a":2.2},{"f":2200,"a":2.5},{"f":2208,"a":3.0},{"f":2214,"a":2.6},{"f":2219,"a":4.0},{"f":2225,"a":8.9},{"f":2229,"a":5.0},{"f":2233,"a":9.0},{"f":2236,"a":17.0},{"f":2240,"a":9.5},{"f":2244,"a":6.0},{"f":2247,"a":10.2},{"f":2251,"a":5.5},{"f":2256,"a":4.5},{"f":2262,"a":3.8},{"f":2268,"a":4.0},{"f":2274,"a":3.0},{"f":2280,"a":3.2},{"f":2288,"a":2.5},{"f":2296,"a":2.2},{"f":2304,"a":2.0},{"f":2312,"a":1.8},{"f":2320,"a":1.6},{"f":2330,"a":1.5},{"f":2340,"a":1.3},{"f":2350,"a":1.4},{"f":2360,"a":1.2},{"f":2370,"a":1.3},{"f":2380,"a":1.1},{"f":2390,"a":1.2},{"f":2400,"a":1.0},{"f":2410,"a":1.6},{"f":2415,"a":2.0},{"f":2420,"a":3.2},{"f":2425,"a":1.6},{"f":2432,"a":1.2},{"f":2440,"a":1.0},{"f":2454,"a":0.9},{"f":2468,"a":1.0},{"f":2482,"a":0.8},{"f":2496,"a":1.1},{"f":2510,"a":0.9},{"f":2524,"a":0.8},{"f":2538,"a":1.0},{"f":2552,"a":0.9},{"f":2566,"a":0.7},{"f":2580,"a":1.0},{"f":2594,"a":0.8},{"f":2608,"a":1.1},{"f":2622,"a":0.9},{"f":2636,"a":0.8},{"f":2650,"a":1.0},{"f":2664,"a":0.9},{"f":2678,"a":0.7},{"f":2692,"a":1.0},{"f":2706,"a":0.8},{"f":2720,"a":1.1},{"f":2734,"a":0.9},{"f":2748,"a":0.8},{"f":2762,"a":1.0},{"f":2776,"a":0.7},{"f":2790,"a":0.9},{"f":2804,"a":1.0},{"f":2818,"a":0.8},{"f":2832,"a":1.1},{"f":2846,"a":0.9},{"f":2860,"a":0.8},{"f":2874,"a":1.0},{"f":2888,"a":0.9},{"f":2902,"a":1.1},{"f":2916,"a":1.0},{"f":2930,"a":1.2},{"f":2940,"a":1.0},{"f":2950,"a":1.2},{"f":2958,"a":1.5},{"f":2965,"a":1.8},{"f":2970,"a":2.2},{"f":2975,"a":4.5},{"f":2980,"a":2.0},{"f":2986,"a":7.2},{"f":2992,"a":2.4},{"f":2999,"a":4.0},{"f":3004,"a":1.8},{"f":3010,"a":1.4},{"f":3018,"a":1.1},{"f":3026,"a":0.9},{"f":3040,"a":0.8},{"f":3054,"a":1.0},{"f":3068,"a":0.7},{"f":3082,"a":0.9},{"f":3096,"a":1.0},{"f":3110,"a":0.8},{"f":3124,"a":1.1},{"f":3138,"a":0.9},{"f":3152,"a":0.7},{"f":3166,"a":1.0},{"f":3180,"a":0.8},{"f":3194,"a":0.9},{"f":3208,"a":1.1},{"f":3222,"a":0.8},{"f":3236,"a":1.0},{"f":3250,"a":0.9},{"f":3264,"a":0.8}],
"p6":[{"f":100,"a":2.5},{"f":104,"a":1.8},{"f":108,"a":3.0},{"f":112,"a":1.5},{"f":116,"a":2.8},{"f":120,"a":2.0},{"f":124,"a":3.2},{"f":128,"a":1.6},{"f":132,"a":2.6},{"f":136,"a":1.2},{"f":140,"a":2.9},{"f":144,"a":2.0},{"f":148,"a":3.4},{"f":152,"a":1.8},{"f":156,"a":2.7},{"f":160,"a":1.4},{"f":164,"a":3.1},{"f":168,"a":2.2},{"f":172,"a":3.5},{"f":176,"a":1.9},{"f":180,"a":2.8},{"f":184,"a":1.5},{"f":188,"a":3.3},{"f":192,"a":2.4},{"f":196,"a":3.8},{"f":200,"a":2.0},{"f":204,"a":3.0},{"f":208,"a":1.7},{"f":212,"a":3.6},{"f":216,"a":2.6},{"f":220,"a":4.0},{"f":224,"a":2.2},{"f":228,"a":3.3},{"f":232,"a":1.8},{"f":236,"a":3.9},{"f":240,"a":2.5},{"f":244,"a":4.2},{"f":248,"a":2.0},{"f":252,"a":3.5},{"f":256,"a":2.3},{"f":260,"a":4.4},{"f":264,"a":2.1},{"f":268,"a":4.8},{"f":272,"a":2.4},{"f":276,"a":3.6},{"f":280,"a":1.8},{"f":284,"a":3.9},{"f":288,"a":2.6},{"f":292,"a":3.2},{"f":296,"a":1.7},{"f":300,"a":3.4},{"f":304,"a":2.2},{"f":308,"a":2.9},{"f":312,"a":1.9},{"f":316,"a":2.7},{"f":320,"a":2.1},{"f":324,"a":2.5},{"f":328,"a":1.6},{"f":332,"a":2.3},{"f":336,"a":1.8},{"f":340,"a":2.4},{"f":344,"a":1.5},{"f":348,"a":2.6},{"f":353,"a":4.4},{"f":357,"a":2.0},{"f":362,"a":1.6},{"f":368,"a":2.2},{"f":374,"a":1.5},{"f":380,"a":1.9},{"f":386,"a":1.3},{"f":392,"a":1.7},{"f":398,"a":1.2},{"f":404,"a":1.8},{"f":410,"a":1.0},{"f":416,"a":1.6},{"f":422,"a":0.9},{"f":428,"a":1.7},{"f":434,"a":1.2},{"f":440,"a":1.5},{"f":446,"a":0.8},{"f":452,"a":1.6},{"f":458,"a":1.1},{"f":464,"a":1.8},{"f":470,"a":1.0},{"f":476,"a":1.5},{"f":482,"a":0.9},{"f":488,"a":1.4},{"f":494,"a":1.1},{"f":500,"a":1.7},{"f":506,"a":0.9},{"f":512,"a":1.3},{"f":518,"a":1.0},{"f":524,"a":1.6},{"f":530,"a":0.8},{"f":536,"a":1.4},{"f":542,"a":1.0},{"f":548,"a":1.5},{"f":554,"a":0.9},{"f":560,"a":1.3},{"f":566,"a":1.0},{"f":572,"a":1.6},{"f":578,"a":0.8},{"f":584,"a":1.2},{"f":590,"a":1.0},{"f":596,"a":1.4},{"f":602,"a":0.9},{"f":608,"a":1.3},{"f":614,"a":0.8},{"f":620,"a":1.5},{"f":626,"a":1.0},{"f":632,"a":1.3},{"f":638,"a":0.9},{"f":644,"a":1.4},{"f":650,"a":1.1},{"f":656,"a":1.6},{"f":662,"a":1.2},{"f":667,"a":2.5},{"f":672,"a":1.0},{"f":678,"a":0.7},{"f":684,"a":1.2},{"f":690,"a":0.8},{"f":700,"a":1.3},{"f":710,"a":0.6},{"f":720,"a":1.1},{"f":730,"a":0.9},{"f":740,"a":1.5},{"f":750,"a":0.7},{"f":760,"a":1.2},{"f":770,"a":0.5},{"f":780,"a":1.0},{"f":790,"a":1.4},{"f":800,"a":0.8},{"f":810,"a":1.1},{"f":820,"a":0.6},{"f":830,"a":1.3},{"f":840,"a":0.9},{"f":850,"a":1.5},{"f":860,"a":0.7},{"f":870,"a":1.0},{"f":880,"a":0.5},{"f":890,"a":1.2},{"f":900,"a":0.8},{"f":910,"a":1.4},{"f":920,"a":0.9},{"f":930,"a":1.1},{"f":940,"a":0.6},{"f":950,"a":1.3},{"f":960,"a":1.0},{"f":970,"a":1.6},{"f":980,"a":1.1},{"f":990,"a":1.8},{"f":1000,"a":1.2},{"f":1010,"a":1.7},{"f":1020,"a":0.9},{"f":1030,"a":1.5},{"f":1040,"a":1.0},{"f":1050,"a":1.3},{"f":1060,"a":0.7},{"f":1070,"a":1.2},{"f":1080,"a":0.6},{"f":1090,"a":1.0},{"f":1100,"a":1.3},{"f":1110,"a":0.7},{"f":1120,"a":1.1},{"f":1130,"a":0.5},{"f":1140,"a":1.2},{"f":1150,"a":0.9},{"f":1160,"a":1.4},{"f":1170,"a":0.8},{"f":1180,"a":1.0},{"f":1190,"a":0.6},{"f":1200,"a":1.3},{"f":1210,"a":0.9},{"f":1220,"a":1.6},{"f":1230,"a":1.0},{"f":1240,"a":1.2},{"f":1250,"a":0.7},{"f":1260,"a":1.1},{"f":1270,"a":0.5},{"f":1280,"a":0.9},{"f":1290,"a":1.3},{"f":1300,"a":0.8},{"f":1310,"a":1.1},{"f":1320,"a":0.6},{"f":1330,"a":1.2},{"f":1340,"a":0.9},{"f":1350,"a":1.4},{"f":1360,"a":0.7},{"f":1370,"a":1.0},{"f":1380,"a":0.6},{"f":1390,"a":1.2},{"f":1400,"a":0.8},{"f":1410,"a":1.1},{"f":1420,"a":0.5},{"f":1430,"a":1.0},{"f":1440,"a":1.3},{"f":1450,"a":0.7},{"f":1460,"a":1.2},{"f":1470,"a":0.9},{"f":1480,"a":1.5},{"f":1490,"a":0.8},{"f":1500,"a":1.1},{"f":1510,"a":0.6},{"f":1520,"a":1.0},{"f":1530,"a":0.8},{"f":1540,"a":1.3},{"f":1550,"a":0.7},{"f":1560,"a":1.1},{"f":1570,"a":0.5},{"f":1580,"a":0.9},{"f":1590,"a":1.2},{"f":1600,"a":0.8},{"f":1610,"a":1.4},{"f":1620,"a":0.9},{"f":1630,"a":1.1},{"f":1640,"a":0.6},{"f":1650,"a":1.2},{"f":1660,"a":0.8},{"f":1670,"a":1.0},{"f":1680,"a":0.5},{"f":1690,"a":1.1},{"f":1700,"a":1.4},{"f":1710,"a":0.8},{"f":1720,"a":1.2},{"f":1730,"a":0.7},{"f":1740,"a":1.0},{"f":1750,"a":0.6},{"f":1760,"a":1.3},{"f":1770,"a":0.9},{"f":1780,"a":1.1},{"f":1790,"a":0.7},{"f":1800,"a":1.2},{"f":1810,"a":0.8},{"f":1820,"a":1.4},{"f":1830,"a":0.9},{"f":1840,"a":1.0},{"f":1850,"a":0.6},{"f":1860,"a":1.2},{"f":1870,"a":0.8},{"f":1880,"a":1.1},{"f":1890,"a":0.5},{"f":1900,"a":1.0},{"f":1910,"a":1.3},{"f":1920,"a":0.8},{"f":1930,"a":1.2},{"f":1940,"a":0.9},{"f":1950,"a":1.5},{"f":1960,"a":0.8},{"f":1970,"a":1.1},{"f":1980,"a":0.6},{"f":1990,"a":1.0},{"f":2000,"a":0.8},{"f":2010,"a":1.3},{"f":2020,"a":0.7},{"f":2030,"a":1.1},{"f":2040,"a":0.9},{"f":2050,"a":1.4},{"f":2060,"a":0.8},{"f":2070,"a":1.2},{"f":2080,"a":0.6},{"f":2090,"a":1.1},{"f":2100,"a":0.9},{"f":2110,"a":1.3},{"f":2120,"a":0.8},{"f":2130,"a":1.5},{"f":2140,"a":1.0},{"f":2150,"a":1.2},{"f":2158,"a":1.4},{"f":2162,"a":1.0},{"f":2165,"a":3.3},{"f":2169,"a":1.1},{"f":2175,"a":1.5},{"f":2182,"a":1.0},{"f":2190,"a":1.6},{"f":2198,"a":1.2},{"f":2205,"a":1.8},{"f":2212,"a":1.1},{"f":2220,"a":1.5},{"f":2228,"a":1.0},{"f":2236,"a":1.7},{"f":2243,"a":1.3},{"f":2249,"a":2.9},{"f":2254,"a":1.2},{"f":2260,"a":1.6},{"f":2267,"a":1.1},{"f":2274,"a":1.8},{"f":2281,"a":1.3},{"f":2288,"a":2.0},{"f":2294,"a":1.6},{"f":2300,"a":2.3},{"f":2304,"a":1.5},{"f":2308,"a":3.9},{"f":2312,"a":1.8},{"f":2318,"a":1.2},{"f":2324,"a":1.7},{"f":2330,"a":1.1},{"f":2336,"a":1.5},{"f":2342,"a":1.9},{"f":2348,"a":1.3},{"f":2354,"a":2.2},{"f":2360,"a":1.6},{"f":2366,"a":2.4},{"f":2371,"a":3.9},{"f":2375,"a":2.0},{"f":2380,"a":1.4},{"f":2386,"a":2.1},{"f":2392,"a":1.5},{"f":2398,"a":2.3},{"f":2404,"a":1.7},{"f":2410,"a":2.6},{"f":2416,"a":2.0},{"f":2422,"a":2.9},{"f":2428,"a":2.4},{"f":2434,"a":3.3},{"f":2440,"a":2.6},{"f":2445,"a":4.2},{"f":2448,"a":3.0},{"f":2451,"a":10.1},{"f":2454,"a":3.2},{"f":2457,"a":4.8},{"f":2461,"a":4.6},{"f":2465,"a":2.6},{"f":2470,"a":3.0},{"f":2475,"a":2.0},{"f":2480,"a":2.5},{"f":2486,"a":1.8},{"f":2492,"a":2.3},{"f":2498,"a":1.6},{"f":2504,"a":2.1},{"f":2510,"a":1.5},{"f":2516,"a":2.2},{"f":2522,"a":1.7},{"f":2528,"a":2.5},{"f":2534,"a":1.9},{"f":2540,"a":2.6},{"f":2546,"a":2.0},{"f":2551,"a":3.0},{"f":2556,"a":2.4},{"f":2560,"a":3.5},{"f":2563,"a":4.4},{"f":2567,"a":2.8},{"f":2571,"a":3.4},{"f":2575,"a":2.6},{"f":2578,"a":10.9},{"f":2581,"a":3.0},{"f":2585,"a":3.6},{"f":2590,"a":4.5},{"f":2594,"a":2.9},{"f":2598,"a":3.1},{"f":2603,"a":3.5},{"f":2608,"a":2.6},{"f":2613,"a":2.9},{"f":2618,"a":2.3},{"f":2623,"a":2.7},{"f":2627,"a":2.1},{"f":2631,"a":6.7},{"f":2634,"a":2.0},{"f":2639,"a":1.6},{"f":2645,"a":1.9},{"f":2651,"a":1.3},{"f":2658,"a":1.6},{"f":2665,"a":1.1},{"f":2672,"a":1.4},{"f":2680,"a":0.9},{"f":2690,"a":1.2},{"f":2700,"a":0.7},{"f":2710,"a":1.1},{"f":2720,"a":0.8},{"f":2730,"a":1.2},{"f":2740,"a":0.6},{"f":2750,"a":1.0},{"f":2760,"a":0.8},{"f":2770,"a":1.3},{"f":2780,"a":0.7},{"f":2790,"a":1.1},{"f":2800,"a":0.9},{"f":2810,"a":1.2},{"f":2820,"a":0.6},{"f":2830,"a":1.0},{"f":2840,"a":0.8},{"f":2850,"a":1.3},{"f":2860,"a":0.9},{"f":2870,"a":1.5},{"f":2880,"a":1.0},{"f":2890,"a":1.4},{"f":2897,"a":1.8},{"f":2904,"a":1.1},{"f":2912,"a":0.8},{"f":2920,"a":1.2},{"f":2930,"a":0.7},{"f":2940,"a":1.0},{"f":2950,"a":0.6},{"f":2960,"a":1.1},{"f":2970,"a":0.8},{"f":2980,"a":1.2},{"f":2990,"a":0.7},{"f":3000,"a":1.0},{"f":3010,"a":0.6},{"f":3020,"a":0.9},{"f":3030,"a":1.1},{"f":3040,"a":0.7},{"f":3050,"a":1.0},{"f":3060,"a":0.8},{"f":3070,"a":1.2},{"f":3080,"a":0.6},{"f":3090,"a":0.9},{"f":3100,"a":0.7},{"f":3110,"a":1.1},{"f":3120,"a":0.8},{"f":3130,"a":1.0},{"f":3140,"a":0.6},{"f":3150,"a":0.9},{"f":3160,"a":1.2},{"f":3170,"a":0.7},{"f":3180,"a":1.0},{"f":3190,"a":0.8},{"f":3200,"a":1.1},{"f":3210,"a":0.7},{"f":3220,"a":0.9},{"f":3230,"a":0.6},{"f":3240,"a":1.0},{"f":3250,"a":0.8},{"f":3260,"a":1.1},{"f":3270,"a":0.9}],
"n1":[{"f":1965,"a":3.74,"t":"NGC 1501"}],
"n2":[{"f":2010,"a":1.42,"t":"Sand 3"}],
"t2":[{"f":2705,"a":2.16,"t":"T=130000K"}],
"n3":[{"f":2010,"a":2.18,"t":"RX J2117"}],
"t3":[{"f":2698,"a":2.73,"t":"T=170000K"},{"f":1273,"a":0.18,"t":"T=150000K"}],
"n4":[{"f":1002,"a":4.0,"t":"PG 1159"}],
"t4":[{"f":2698,"a":5.0,"t":"T=140000K"}],
"n5":[{"f":1002,"a":9.87,"t":"PG 1707"}],
"t5":[{"f":2698,"a":14.2,"t":"T=85000K"}],
"n6":[{"f":1002,"a":5.7,"t":"PG 2131"}],
"t6":[{"f":2678,"a":8.0,"t":"T=95000K"}]
},
"vconcat":[
{"width":933,"height":98,"resolve":{"axis":{"x":"independent","y":"independent"}},
"layer":[
{"data":{"name":"p1"},"mark":{"type":"line","color":"#222","strokeWidth":1.1,"clip":true},
"encoding":{"x":{"field":"f","type":"quantitative","scale":{"domain":[100,3270],"nice":false,"zero":false},"axis":{"orient":"bottom","tickCount":200,"values":[100,150,200,250,300,350,400,450,500,550,600,650,700,750,800,850,900,950,1000,1050,1100,1150,1200,1250,1300,1350,1400,1450,1500,1550,1600,1650,1700,1750,1800,1850,1900,1950,2000,2050,2100,2150,2200,2250,2300,2350,2400,2450,2500,2550,2600,2650,2700,2750,2800,2850,2900,2950,3000,3050,3100,3150,3200,3250],"labels":false,"title":null,"tickSize":{"condition":{"test":"datum.value % 200 === 0","value":-9},"value":-5}}},
"y":{"field":"a","type":"quantitative","scale":{"domain":[-0.26,6.06],"nice":false,"zero":false},"axis":{"orient":"left","tickCount":200,"values":[0,0.5,1,1.5,2,2.5,3,3.5,4,4.5,5,5.5,6],"format":"d","labelOverlap":false,"labelExpr":"datum.value % 2 === 0 ? datum.label : ''","tickSize":{"condition":{"test":"datum.value % 2 === 0","value":-7},"value":-3},"labelPadding":20,"title":null}}}},
{"data":{"name":"n1"},"mark":{"type":"text","align":"left","baseline":"middle","font":"Liberation Sans","fontSize":23,"color":"#333"},
"encoding":{"x":{"field":"f","type":"quantitative","scale":{"domain":[100,3270],"nice":false,"zero":false},"axis":{"orient":"top","tickCount":200,"values":[100,150,200,250,300,350,400,450,500,550,600,650,700,750,800,850,900,950,1000,1050,1100,1150,1200,1250,1300,1350,1400,1450,1500,1550,1600,1650,1700,1750,1800,1850,1900,1950,2000,2050,2100,2150,2200,2250,2300,2350,2400,2450,2500,2550,2600,2650,2700,2750,2800,2850,2900,2950,3000,3050,3100,3150,3200,3250],"labels":false,"title":null,"tickSize":{"condition":{"test":"datum.value % 200 === 0","value":-9},"value":-5}}},
"y":{"field":"a","type":"quantitative","scale":{"domain":[-0.26,6.06],"nice":false,"zero":false},"axis":{"orient":"right","tickCount":200,"values":[0,2,4,6],"labels":false,"tickSize":-6,"title":null}},
"text":{"field":"t"}}}
]},
{"width":933,"height":98,"resolve":{"axis":{"x":"independent","y":"independent"}},
"layer":[
{"data":{"name":"p2"},"mark":{"type":"line","color":"#222","strokeWidth":1.1,"clip":true},
"encoding":{"x":{"field":"f","type":"quantitative","scale":{"domain":[100,3270],"nice":false,"zero":false},"axis":{"orient":"bottom","tickCount":200,"values":[100,150,200,250,300,350,400,450,500,550,600,650,700,750,800,850,900,950,1000,1050,1100,1150,1200,1250,1300,1350,1400,1450,1500,1550,1600,1650,1700,1750,1800,1850,1900,1950,2000,2050,2100,2150,2200,2250,2300,2350,2400,2450,2500,2550,2600,2650,2700,2750,2800,2850,2900,2950,3000,3050,3100,3150,3200,3250],"labels":false,"title":null,"tickSize":{"condition":{"test":"datum.value % 200 === 0","value":-9},"value":-5}}},
"y":{"field":"a","type":"quantitative","scale":{"domain":[-0.03,3.13],"nice":false,"zero":false},"axis":{"orient":"left","tickCount":200,"values":[0,1,2,3],"format":"d","labelOverlap":false,"tickSize":-7,"labelPadding":20,"title":null}}}},
{"data":{"name":"n2"},"mark":{"type":"text","align":"left","baseline":"middle","font":"Liberation Sans","fontSize":23,"color":"#333"},
"encoding":{"x":{"field":"f","type":"quantitative","scale":{"domain":[100,3270],"nice":false,"zero":false},"axis":{"orient":"top","tickCount":200,"values":[100,150,200,250,300,350,400,450,500,550,600,650,700,750,800,850,900,950,1000,1050,1100,1150,1200,1250,1300,1350,1400,1450,1500,1550,1600,1650,1700,1750,1800,1850,1900,1950,2000,2050,2100,2150,2200,2250,2300,2350,2400,2450,2500,2550,2600,2650,2700,2750,2800,2850,2900,2950,3000,3050,3100,3150,3200,3250],"labels":false,"title":null,"tickSize":{"condition":{"test":"datum.value % 200 === 0","value":-9},"value":-5}}},
"y":{"field":"a","type":"quantitative","scale":{"domain":[-0.03,3.13],"nice":false,"zero":false},"axis":{"orient":"right","tickCount":200,"values":[0,1,2,3],"labels":false,"tickSize":-6,"title":null}},
"text":{"field":"t"}}},
{"data":{"name":"t2"},"mark":{"type":"text","align":"left","baseline":"middle","font":"Liberation Mono","fontSize":24,"color":"#444"},
"encoding":{"x":{"field":"f","type":"quantitative","axis":null},"y":{"field":"a","type":"quantitative","axis":{"orient":"left","tickCount":200,"values":[0.2,0.4,0.6,0.8,1.2,1.4,1.6,1.8,2.2,2.4,2.6,2.8],"labels":false,"tickSize":-3,"title":null}},"text":{"field":"t"}}}
]},
{"width":933,"height":98,"resolve":{"axis":{"x":"independent","y":"independent"}},
"layer":[
{"data":{"name":"p3"},"mark":{"type":"line","color":"#222","strokeWidth":1.1,"clip":true},
"encoding":{"x":{"field":"f","type":"quantitative","scale":{"domain":[100,3270],"nice":false,"zero":false},"axis":{"orient":"bottom","tickCount":200,"values":[100,150,200,250,300,350,400,450,500,550,600,650,700,750,800,850,900,950,1000,1050,1100,1150,1200,1250,1300,1350,1400,1450,1500,1550,1600,1650,1700,1750,1800,1850,1900,1950,2000,2050,2100,2150,2200,2250,2300,2350,2400,2450,2500,2550,2600,2650,2700,2750,2800,2850,2900,2950,3000,3050,3100,3150,3200,3250],"labels":false,"title":null,"tickSize":{"condition":{"test":"datum.value % 200 === 0","value":-9},"value":-5}}},
"y":{"field":"a","type":"quantitative","scale":{"domain":[-0.14,4.32],"nice":false,"zero":false},"axis":{"orient":"left","tickCount":200,"values":[0,1,2,3,4],"format":"d","labelOverlap":false,"tickSize":-7,"labelPadding":20,"title":"Amplitude [mma]","titleFont":"Liberation Sans","titleFontSize":22,"titleFontWeight":"normal","titleColor":"#333","titleX":-88,"titleY":103,"titleAngle":-90,"titleAlign":"center","titleBaseline":"bottom"}}}},
{"data":{"name":"n3"},"mark":{"type":"text","align":"left","baseline":"middle","font":"Liberation Sans","fontSize":23,"color":"#333"},
"encoding":{"x":{"field":"f","type":"quantitative","scale":{"domain":[100,3270],"nice":false,"zero":false},"axis":{"orient":"top","tickCount":200,"values":[100,150,200,250,300,350,400,450,500,550,600,650,700,750,800,850,900,950,1000,1050,1100,1150,1200,1250,1300,1350,1400,1450,1500,1550,1600,1650,1700,1750,1800,1850,1900,1950,2000,2050,2100,2150,2200,2250,2300,2350,2400,2450,2500,2550,2600,2650,2700,2750,2800,2850,2900,2950,3000,3050,3100,3150,3200,3250],"labels":false,"title":null,"tickSize":{"condition":{"test":"datum.value % 200 === 0","value":-9},"value":-5}}},
"y":{"field":"a","type":"quantitative","scale":{"domain":[-0.14,4.32],"nice":false,"zero":false},"axis":{"orient":"right","tickCount":200,"values":[0,1,2,3,4],"labels":false,"tickSize":-6,"title":null}},
"text":{"field":"t"}}},
{"data":{"name":"t3"},"mark":{"type":"text","align":"left","baseline":"middle","font":"Liberation Mono","fontSize":24,"color":"#444"},
"encoding":{"x":{"field":"f","type":"quantitative","axis":null},"y":{"field":"a","type":"quantitative","axis":{"orient":"left","tickCount":200,"values":[0.2,0.4,0.6,0.8,1.2,1.4,1.6,1.8,2.2,2.4,2.6,2.8,3.2,3.4,3.6,3.8],"labels":false,"tickSize":-3,"title":null}},"text":{"field":"t"}}}
]},
{"width":933,"height":98,"resolve":{"axis":{"x":"independent","y":"independent"}},
"layer":[
{"data":{"name":"p4"},"mark":{"type":"line","color":"#222","strokeWidth":1.1,"clip":true},
"encoding":{"x":{"field":"f","type":"quantitative","scale":{"domain":[100,3270],"nice":false,"zero":false},"axis":{"orient":"bottom","tickCount":200,"values":[100,150,200,250,300,350,400,450,500,550,600,650,700,750,800,850,900,950,1000,1050,1100,1150,1200,1250,1300,1350,1400,1450,1500,1550,1600,1650,1700,1750,1800,1850,1900,1950,2000,2050,2100,2150,2200,2250,2300,2350,2400,2450,2500,2550,2600,2650,2700,2750,2800,2850,2900,2950,3000,3050,3100,3150,3200,3250],"labels":false,"title":null,"tickSize":{"condition":{"test":"datum.value % 200 === 0","value":-9},"value":-5}}},
"y":{"field":"a","type":"quantitative","scale":{"domain":[-0.3,7.24],"nice":false,"zero":false},"axis":{"orient":"left","tickCount":200,"values":[0,0.5,1,1.5,2,2.5,3,3.5,4,4.5,5,5.5,6,6.5,7],"format":"d","labelOverlap":false,"labelExpr":"datum.value % 2 === 0 ? datum.label : ''","tickSize":{"condition":{"test":"datum.value % 2 === 0","value":-7},"value":-3},"labelPadding":20,"title":null}}}},
{"data":{"name":"n4"},"mark":{"type":"text","align":"left","baseline":"middle","font":"Liberation Sans","fontSize":23,"color":"#333"},
"encoding":{"x":{"field":"f","type":"quantitative","scale":{"domain":[100,3270],"nice":false,"zero":false},"axis":{"orient":"top","tickCount":200,"values":[100,150,200,250,300,350,400,450,500,550,600,650,700,750,800,850,900,950,1000,1050,1100,1150,1200,1250,1300,1350,1400,1450,1500,1550,1600,1650,1700,1750,1800,1850,1900,1950,2000,2050,2100,2150,2200,2250,2300,2350,2400,2450,2500,2550,2600,2650,2700,2750,2800,2850,2900,2950,3000,3050,3100,3150,3200,3250],"labels":false,"title":null,"tickSize":{"condition":{"test":"datum.value % 200 === 0","value":-9},"value":-5}}},
"y":{"field":"a","type":"quantitative","scale":{"domain":[-0.3,7.24],"nice":false,"zero":false},"axis":{"orient":"right","tickCount":200,"values":[0,2,4,6],"labels":false,"tickSize":-6,"title":null}},
"text":{"field":"t"}}},
{"data":{"name":"t4"},"mark":{"type":"text","align":"left","baseline":"middle","font":"Liberation Mono","fontSize":24,"color":"#444"},
"encoding":{"x":{"field":"f","type":"quantitative","axis":null},"y":{"field":"a","type":"quantitative","axis":null},"text":{"field":"t"}}}
]},
{"width":933,"height":98,"resolve":{"axis":{"x":"independent","y":"independent"}},
"layer":[
{"data":{"name":"p5"},"mark":{"type":"line","color":"#222","strokeWidth":1.1,"clip":true},
"encoding":{"x":{"field":"f","type":"quantitative","scale":{"domain":[100,3270],"nice":false,"zero":false},"axis":{"orient":"bottom","tickCount":200,"values":[100,150,200,250,300,350,400,450,500,550,600,650,700,750,800,850,900,950,1000,1050,1100,1150,1200,1250,1300,1350,1400,1450,1500,1550,1600,1650,1700,1750,1800,1850,1900,1950,2000,2050,2100,2150,2200,2250,2300,2350,2400,2450,2500,2550,2600,2650,2700,2750,2800,2850,2900,2950,3000,3050,3100,3150,3200,3250],"labels":false,"title":null,"tickSize":{"condition":{"test":"datum.value % 200 === 0","value":-9},"value":-5}}},
"y":{"field":"a","type":"quantitative","scale":{"domain":[-0.38,18.2],"nice":false,"zero":false},"axis":{"orient":"left","tickCount":200,"values":[0,1,2,3,4,5,6,7,8,9,10,11,12,13,14,15,16,17,18],"format":"d","labelOverlap":false,"labelExpr":"datum.value % 5 === 0 ? datum.label : ''","tickSize":{"condition":{"test":"datum.value % 5 === 0","value":-7},"value":-3},"labelPadding":20,"title":null}}}},
{"data":{"name":"n5"},"mark":{"type":"text","align":"left","baseline":"middle","font":"Liberation Sans","fontSize":23,"color":"#333"},
"encoding":{"x":{"field":"f","type":"quantitative","scale":{"domain":[100,3270],"nice":false,"zero":false},"axis":{"orient":"top","tickCount":200,"values":[100,150,200,250,300,350,400,450,500,550,600,650,700,750,800,850,900,950,1000,1050,1100,1150,1200,1250,1300,1350,1400,1450,1500,1550,1600,1650,1700,1750,1800,1850,1900,1950,2000,2050,2100,2150,2200,2250,2300,2350,2400,2450,2500,2550,2600,2650,2700,2750,2800,2850,2900,2950,3000,3050,3100,3150,3200,3250],"labels":false,"title":null,"tickSize":{"condition":{"test":"datum.value % 200 === 0","value":-9},"value":-5}}},
"y":{"field":"a","type":"quantitative","scale":{"domain":[-0.38,18.2],"nice":false,"zero":false},"axis":{"orient":"right","tickCount":200,"values":[0,5,10,15],"labels":false,"tickSize":-6,"title":null}},
"text":{"field":"t"}}},
{"data":{"name":"t5"},"mark":{"type":"text","align":"left","baseline":"middle","font":"Liberation Mono","fontSize":24,"color":"#444"},
"encoding":{"x":{"field":"f","type":"quantitative","axis":null},"y":{"field":"a","type":"quantitative","axis":null},"text":{"field":"t"}}}
]},
{"width":933,"height":98,"resolve":{"axis":{"x":"independent","y":"independent"}},
"layer":[
{"data":{"name":"p6"},"mark":{"type":"line","color":"#222","strokeWidth":1.1,"clip":true},
"encoding":{"x":{"field":"f","type":"quantitative","scale":{"domain":[100,3270],"nice":false,"zero":false},"axis":{"orient":"bottom","tickCount":200,"values":[100,150,200,250,300,350,400,450,500,550,600,650,700,750,800,850,900,950,1000,1050,1100,1150,1200,1250,1300,1350,1400,1450,1500,1550,1600,1650,1700,1750,1800,1850,1900,1950,2000,2050,2100,2150,2200,2250,2300,2350,2400,2450,2500,2550,2600,2650,2700,2750,2800,2850,2900,2950,3000,3050,3100,3150,3200,3250],"format":"d","labelOverlap":false,"labelExpr":"datum.value % 500 === 0 ? datum.label : ''","labelFontSize":20,"labelColor":"#333","labelPadding":{"condition":{"test":"datum.value % 200 === 0","value":23},"value":19},"tickSize":{"condition":{"test":"datum.value % 200 === 0","value":-9},"value":-5},"title":"Freqüência (uHz)","titleFont":"Liberation Mono","titleFontSize":24,"titleFontWeight":"normal","titleColor":"#333","titlePadding":6}},
"y":{"field":"a","type":"quantitative","scale":{"domain":[-0.5,11.9],"nice":false,"zero":false},"axis":{"orient":"left","tickCount":200,"values":[0,0.5,1,1.5,2,2.5,3,3.5,4,4.5,5,5.5,6,6.5,7,7.5,8,8.5,9,9.5,10,10.5,11],"format":"d","labelOverlap":false,"labelExpr":"datum.value % 2 === 0 ? datum.label : ''","tickSize":{"condition":{"test":"datum.value % 2 === 0","value":-7},"value":-3},"labelPadding":20,"title":null}}}},
{"data":{"name":"n6"},"mark":{"type":"text","align":"left","baseline":"middle","font":"Liberation Sans","fontSize":23,"color":"#333"},
"encoding":{"x":{"field":"f","type":"quantitative","scale":{"domain":[100,3270],"nice":false,"zero":false},"axis":{"orient":"top","tickCount":200,"values":[100,150,200,250,300,350,400,450,500,550,600,650,700,750,800,850,900,950,1000,1050,1100,1150,1200,1250,1300,1350,1400,1450,1500,1550,1600,1650,1700,1750,1800,1850,1900,1950,2000,2050,2100,2150,2200,2250,2300,2350,2400,2450,2500,2550,2600,2650,2700,2750,2800,2850,2900,2950,3000,3050,3100,3150,3200,3250],"labels":false,"title":null,"tickSize":{"condition":{"test":"datum.value % 200 === 0","value":-9},"value":-5}}},
"y":{"field":"a","type":"quantitative","scale":{"domain":[-0.5,11.9],"nice":false,"zero":false},"axis":{"orient":"right","tickCount":200,"values":[0,2,4,6,8,10],"labels":false,"tickSize":-6,"title":null}},
"text":{"field":"t"}}},
{"data":{"name":"t6"},"mark":{"type":"text","align":"left","baseline":"middle","font":"Liberation Mono","fontSize":24,"color":"#444"},
"encoding":{"x":{"field":"f","type":"quantitative","axis":null},"y":{"field":"a","type":"quantitative","axis":null},"text":{"field":"t"}}}
]}
]
}
